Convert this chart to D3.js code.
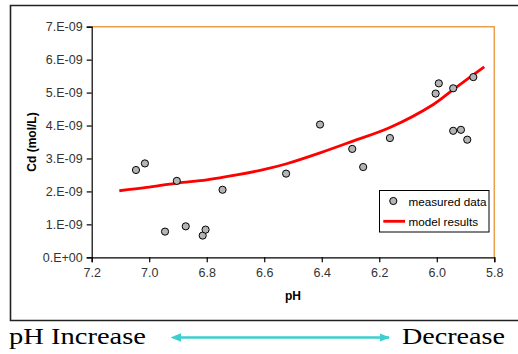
<!DOCTYPE html>
<html><head><meta charset="utf-8">
<script src="https://cdn.jsdelivr.net/npm/d3@7"></script>
<style>body{margin:0;background:#fff}svg{display:block}</style>
</head><body>
<script>
const measuredPH = [7.046,7.015,6.904,6.945,6.873,6.814,6.804,6.745,6.524,6.406,6.294,6.256,6.163,6.004,5.993,5.943,5.943,5.916,5.894,5.873];
const measuredCd = [2.65e-9,2.85e-9,2.32e-9,0.78e-9,0.94e-9,0.66e-9,0.84e-9,2.05e-9,2.54e-9,4.03e-9,3.29e-9,2.74e-9,3.62e-9,4.97e-9,5.28e-9,5.13e-9,3.84e-9,3.87e-9,3.57e-9,5.47e-9];
const modelPH = [7.104,7.009,6.904,6.80,6.696,6.603,6.522,6.406,6.294,6.163,6.012,5.943,5.835];
const modelCd = [2.02e-9,2.12e-9,2.25e-9,2.35e-9,2.50e-9,2.66e-9,2.84e-9,3.17e-9,3.52e-9,3.94e-9,4.64e-9,5.09e-9,5.78e-9];
const xTicks = [7.2,7.0,6.8,6.6,6.4,6.2,6.0,5.8];
const yTicks = [0,1e-9,2e-9,3e-9,4e-9,5e-9,6e-9,7e-9];
const legendLabels = ["measured data","model results"];

const W=518,H=354;
const svg=d3.select("body").append("svg").attr("width",W).attr("height",H);
// outer frame
svg.append("path").attr("d","M518,5.5H10.5V320.5H518").attr("fill","none").attr("stroke","#222").attr("stroke-width",1.6);

const x=d3.scaleLinear().domain([7.2,5.8]).range([91.7,494.3]);
const y=d3.scaleLinear().domain([0,7e-9]).range([257.3,26.7]);

// orange top/right border
svg.append("path").attr("d",`M${x(7.2)},${y(7e-9)}H${x(5.8)}V${y(0)}`).attr("fill","none").attr("stroke","#E8A050").attr("stroke-width",1.5);

const fmt=d=>d===0?"0.E+00":Math.round(d*1e9)+".E-09";
const ya=svg.append("g").attr("transform",`translate(${x(7.2)},0)`).call(d3.axisLeft(y).tickValues(yTicks).tickFormat(fmt).tickSize(5).tickPadding(4));
const xa=svg.append("g").attr("transform",`translate(0,${y(0)})`).call(d3.axisBottom(x).tickValues(xTicks).tickFormat(d3.format(".1f")).tickSize(5).tickPadding(6));
[ya,xa].forEach(a=>{
  a.selectAll("path,line").attr("stroke","#000").attr("stroke-width",1.2);
  a.selectAll("text").attr("font-family","Arial, 'Liberation Sans', sans-serif").attr("font-size",12.5).attr("fill","#333");
});

svg.append("text").attr("x",293).attr("y",300).attr("text-anchor","middle")
  .attr("font-family","Arial, 'Liberation Sans', sans-serif").attr("font-weight","bold").attr("font-size",12).text("pH");
svg.append("text").attr("transform","translate(36,142) rotate(-90)").attr("text-anchor","middle")
  .attr("font-family","Arial, 'Liberation Sans', sans-serif").attr("font-weight","bold").attr("font-size",12).text("Cd (mol/L)");

// model line
const modelData=modelPH.map((p,i)=>({p,c:modelCd[i]}));
svg.append("path").datum(modelData).attr("fill","none").attr("stroke","#FF0000").attr("stroke-width",2.8)
  .attr("d",d3.line().x(d=>x(d.p)).y(d=>y(d.c)).curve(d3.curveCatmullRom));

// points
const pts=measuredPH.map((p,i)=>({p,c:measuredCd[i]}));
svg.append("g").selectAll("circle").data(pts).join("circle")
  .attr("cx",d=>x(d.p)).attr("cy",d=>y(d.c)).attr("r",3.6)
  .attr("fill","#B4B4B4").attr("stroke","#000").attr("stroke-width",1);

// legend
const lg=svg.append("g");
lg.append("rect").attr("x",379.5).attr("y",190.5).attr("width",109.5).attr("height",41.5).attr("fill","#fff").attr("stroke","#000").attr("stroke-width",1);
lg.append("circle").attr("cx",393.3).attr("cy",201).attr("r",3.6).attr("fill","#B4B4B4").attr("stroke","#000");
lg.append("line").attr("x1",383.3).attr("x2",405).attr("y1",221.3).attr("y2",221.3).attr("stroke","#FF0000").attr("stroke-width",2.8);
lg.selectAll("text").data(legendLabels).join("text").attr("x",408.5).attr("y",(d,i)=>205.5+i*20.3)
  .attr("font-family","Arial, 'Liberation Sans', sans-serif").attr("font-size",11.7).attr("fill","#000").text(d=>d);

// bottom annotation
const defs=svg.append("defs");
["s","e"].forEach(k=>{
  defs.append("marker").attr("id","ar"+k).attr("viewBox","0 0 10 10").attr("refX",k==="e"?9:1).attr("refY",5)
    .attr("markerWidth",4).attr("markerHeight",4).attr("orient","auto-start-reverse")
    .append("path").attr("d","M0,1L10,5L0,9Z").attr("fill","#3CCFD0");
});
svg.append("line").attr("x1",180).attr("x2",389).attr("y1",337.5).attr("y2",337.5).attr("stroke","#3CCFD0").attr("stroke-width",2.6)
  .attr("marker-start","url(#ars)").attr("marker-end","url(#are)");
svg.append("text").attr("x",9).attr("y",344).attr("font-family","'Liberation Serif','Times New Roman',serif").attr("font-size",23)
  .attr("textLength",137).attr("lengthAdjust","spacingAndGlyphs").attr("fill","#000").text("pH Increase");
svg.append("text").attr("x",402).attr("y",344).attr("font-family","'Liberation Serif','Times New Roman',serif").attr("font-size",23)
  .attr("textLength",103).attr("lengthAdjust","spacingAndGlyphs").attr("fill","#000").text("Decrease");
</script>
</body></html>
